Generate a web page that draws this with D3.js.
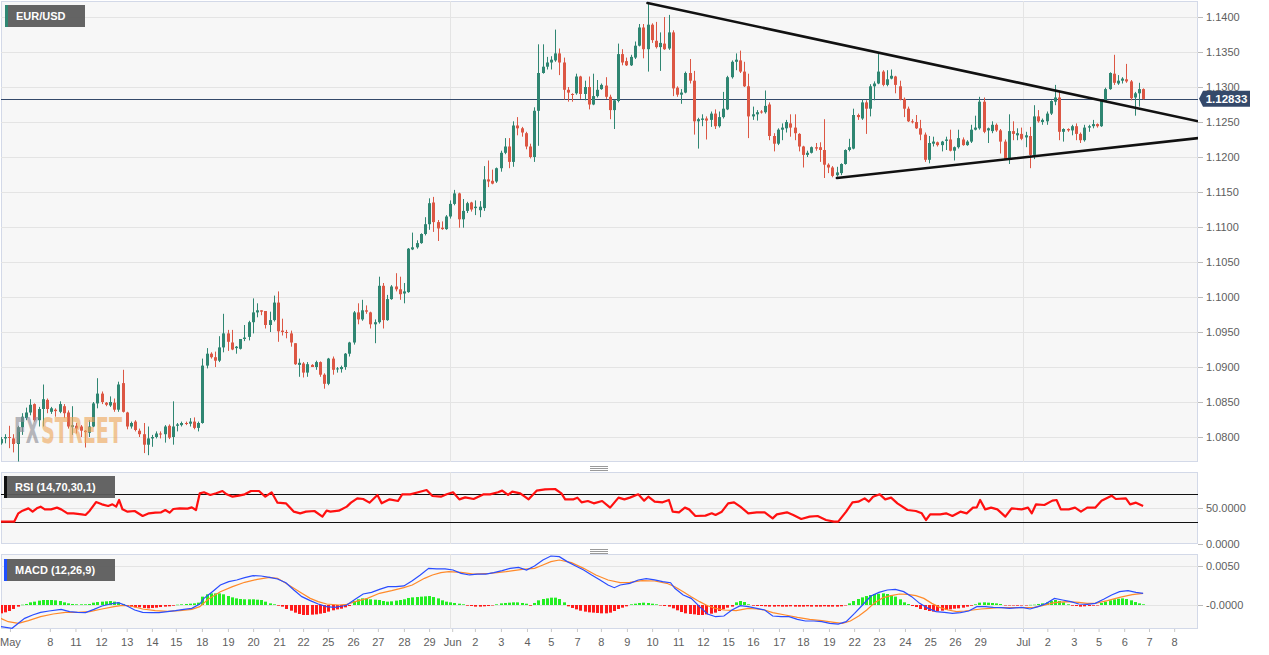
<!DOCTYPE html>
<html><head><meta charset="utf-8">
<script src="https://cdn.jsdelivr.net/npm/d3@7"></script>
<style>
body{margin:0;background:#fff;}
svg{display:block;font-family:"Liberation Sans",Arial,sans-serif;}
</style>
</head><body>
<svg id="chart" width="1269" height="655"></svg>
<script>
// ---------------- DATA (EUR/USD 4H) ----------------
const symbol = "EUR/USD";
const lastPrice = 1.12833;
const opens = [1.0791,1.0798,1.0800,1.0798,1.0790,1.0814,1.0827,1.0835,1.0847,1.0824,1.0840,1.0853,1.0836,1.0839,1.0836,1.0844,1.0835,1.0814,1.0816,1.0815,1.0809,1.0806,1.0815,1.0848,1.0862,1.0849,1.0845,1.0849,1.0839,1.0877,1.0835,1.0815,1.0822,1.0809,1.0804,1.0789,1.0798,1.0800,1.0805,1.0804,1.0816,1.0800,1.0816,1.0817,1.0820,1.0819,1.0822,1.0813,1.0820,1.0902,1.0919,1.0914,1.0909,1.0928,1.0948,1.0935,1.0927,1.0926,1.0940,1.0943,1.0964,1.0978,1.0981,1.0980,1.0960,1.0967,1.0992,1.0952,1.0950,1.0948,1.0934,1.0903,1.0905,1.0892,1.0903,1.0900,1.0907,1.0889,1.0876,1.0912,1.0897,1.0897,1.0900,1.0919,1.0935,1.0978,1.0968,1.0981,1.0978,1.0961,1.0964,1.1016,1.0967,1.0997,1.1015,1.1011,1.1005,1.1007,1.1068,1.1071,1.1077,1.1090,1.1104,1.1135,1.1107,1.1099,1.1097,1.1115,1.1133,1.1148,1.1111,1.1123,1.1135,1.1127,1.1124,1.1127,1.1168,1.1166,1.1165,1.1184,1.1206,1.1215,1.1193,1.1245,1.1241,1.1234,1.1215,1.1200,1.1266,1.1320,1.1329,1.1335,1.1338,1.1348,1.1335,1.1296,1.1290,1.1291,1.1315,1.1290,1.1300,1.1275,1.1287,1.1297,1.1302,1.1286,1.1267,1.1280,1.1347,1.1337,1.1331,1.1342,1.1359,1.1385,1.1354,1.1389,1.1366,1.1357,1.1362,1.1355,1.1378,1.1299,1.1289,1.1292,1.1320,1.1309,1.1251,1.1253,1.1255,1.1253,1.1262,1.1244,1.1257,1.1268,1.1314,1.1336,1.1338,1.1322,1.1301,1.1258,1.1261,1.1265,1.1264,1.1275,1.1230,1.1219,1.1239,1.1241,1.1248,1.1242,1.1233,1.1215,1.1203,1.1206,1.1214,1.1214,1.1210,1.1189,1.1185,1.1174,1.1177,1.1190,1.1210,1.1212,1.1260,1.1255,1.1278,1.1269,1.1301,1.1305,1.1322,1.1303,1.1312,1.1315,1.1301,1.1283,1.1269,1.1251,1.1250,1.1241,1.1232,1.1196,1.1219,1.1221,1.1217,1.1223,1.1225,1.1209,1.1214,1.1225,1.1217,1.1222,1.1239,1.1241,1.1279,1.1238,1.1237,1.1246,1.1238,1.1222,1.1197,1.1237,1.1231,1.1233,1.1228,1.1230,1.1203,1.1258,1.1250,1.1251,1.1262,1.1279,1.1285,1.1236,1.1240,1.1238,1.1244,1.1233,1.1224,1.1242,1.1244,1.1247,1.1244,1.1280,1.1297,1.1319,1.1305,1.1309,1.1311,1.1308,1.1285,1.1291,1.1297];
const highs = [1.0800,1.0804,1.0816,1.0804,1.0816,1.0834,1.0842,1.0854,1.0848,1.0843,1.0875,1.0855,1.0843,1.0841,1.0851,1.0847,1.0838,1.0844,1.0820,1.0817,1.0810,1.0824,1.0850,1.0884,1.0865,1.0850,1.0858,1.0855,1.0879,1.0896,1.0836,1.0822,1.0824,1.0812,1.0820,1.0815,1.0803,1.0808,1.0808,1.0817,1.0818,1.0851,1.0820,1.0822,1.0822,1.0827,1.0828,1.0822,1.0912,1.0927,1.0921,1.0922,1.0944,1.0976,1.0953,1.0953,1.0930,1.0940,1.0960,1.0966,1.0998,1.0991,1.0981,1.0980,1.0979,1.1002,1.1008,1.0969,1.0953,1.0952,1.0934,1.0912,1.0907,1.0907,1.0904,1.0909,1.0908,1.0891,1.0913,1.0915,1.0900,1.0902,1.0920,1.0936,1.0980,1.0991,1.0996,1.0988,1.0979,1.0968,1.1029,1.1020,1.1003,1.1017,1.1034,1.1029,1.1020,1.1070,1.1092,1.1081,1.1091,1.1114,1.1141,1.1143,1.1110,1.1108,1.1117,1.1138,1.1153,1.1149,1.1140,1.1136,1.1136,1.1138,1.1137,1.1187,1.1195,1.1182,1.1185,1.1209,1.1227,1.1227,1.1251,1.1257,1.1243,1.1236,1.1219,1.1271,1.1361,1.1361,1.1343,1.1344,1.1382,1.1355,1.1342,1.1300,1.1291,1.1319,1.1316,1.1309,1.1315,1.1319,1.1310,1.1305,1.1314,1.1289,1.1282,1.1362,1.1354,1.1342,1.1346,1.1365,1.1390,1.1390,1.1420,1.1391,1.1393,1.1378,1.1400,1.1403,1.1381,1.1301,1.1297,1.1322,1.1340,1.1323,1.1256,1.1261,1.1258,1.1265,1.1268,1.1265,1.1293,1.1316,1.1338,1.1348,1.1352,1.1336,1.1319,1.1272,1.1267,1.1267,1.1295,1.1278,1.1234,1.1241,1.1248,1.1253,1.1261,1.1261,1.1234,1.1216,1.1209,1.1215,1.1220,1.1221,1.1254,1.1191,1.1187,1.1186,1.1191,1.1211,1.1226,1.1269,1.1262,1.1282,1.1281,1.1304,1.1308,1.1347,1.1324,1.1324,1.1325,1.1316,1.1309,1.1285,1.1272,1.1254,1.1260,1.1253,1.1235,1.1230,1.1229,1.1222,1.1223,1.1229,1.1239,1.1215,1.1239,1.1228,1.1224,1.1246,1.1259,1.1286,1.1285,1.1242,1.1251,1.1248,1.1240,1.1225,1.1261,1.1251,1.1241,1.1242,1.1236,1.1243,1.1274,1.1267,1.1255,1.1265,1.1281,1.1303,1.1293,1.1241,1.1241,1.1246,1.1248,1.1235,1.1246,1.1246,1.1253,1.1248,1.1282,1.1299,1.1321,1.1346,1.1317,1.1314,1.1333,1.1310,1.1293,1.1306,1.1298];
const lows = [1.0789,1.0791,1.0784,1.0778,1.0765,1.0803,1.0824,1.0831,1.0822,1.0815,1.0815,1.0834,1.0833,1.0829,1.0834,1.0827,1.0812,1.0803,1.0805,1.0800,1.0785,1.0800,1.0814,1.0841,1.0847,1.0844,1.0843,1.0836,1.0836,1.0835,1.0811,1.0812,1.0808,1.0800,1.0777,1.0774,1.0786,1.0798,1.0798,1.0792,1.0797,1.0789,1.0808,1.0815,1.0817,1.0815,1.0811,1.0808,1.0819,1.0898,1.0912,1.0900,1.0907,1.0921,1.0923,1.0924,1.0919,1.0925,1.0937,1.0938,1.0948,1.0971,1.0974,1.0955,1.0950,1.0965,1.0936,1.0945,1.0941,1.0929,1.0903,1.0886,1.0885,1.0886,1.0900,1.0896,1.0886,1.0869,1.0874,1.0889,1.0892,1.0892,1.0896,1.0915,1.0932,1.0961,1.0966,1.0976,1.0955,1.0934,1.0962,1.0955,1.0966,1.0996,1.1008,1.0996,1.0991,1.1006,1.1067,1.1069,1.1076,1.1088,1.1096,1.1093,1.1080,1.1096,1.1096,1.1112,1.1131,1.1099,1.1099,1.1120,1.1122,1.1117,1.1114,1.1123,1.1157,1.1161,1.1163,1.1179,1.1204,1.1184,1.1186,1.1231,1.1229,1.1211,1.1198,1.1193,1.1216,1.1319,1.1325,1.1325,1.1336,1.1317,1.1282,1.1279,1.1279,1.1289,1.1283,1.1281,1.1268,1.1274,1.1285,1.1296,1.1283,1.1254,1.1240,1.1278,1.1331,1.1330,1.1330,1.1340,1.1358,1.1341,1.1322,1.1363,1.1355,1.1323,1.1353,1.1353,1.1287,1.1286,1.1276,1.1291,1.1305,1.1232,1.1212,1.1244,1.1225,1.1243,1.1240,1.1242,1.1255,1.1267,1.1312,1.1324,1.1320,1.1300,1.1227,1.1253,1.1252,1.1262,1.1262,1.1224,1.1208,1.1217,1.1224,1.1235,1.1229,1.1224,1.1208,1.1185,1.1200,1.1205,1.1209,1.1193,1.1170,1.1177,1.1171,1.1172,1.1174,1.1189,1.1208,1.1211,1.1253,1.1253,1.1233,1.1258,1.1281,1.1304,1.1301,1.1301,1.1311,1.1291,1.1281,1.1257,1.1250,1.1248,1.1240,1.1224,1.1193,1.1191,1.1215,1.1215,1.1208,1.1210,1.1208,1.1195,1.1212,1.1216,1.1216,1.1220,1.1238,1.1239,1.1234,1.1220,1.1234,1.1236,1.1205,1.1196,1.1190,1.1224,1.1224,1.1224,1.1214,1.1184,1.1197,1.1249,1.1246,1.1246,1.1260,1.1274,1.1224,1.1222,1.1236,1.1231,1.1224,1.1220,1.1222,1.1236,1.1241,1.1242,1.1243,1.1279,1.1296,1.1303,1.1303,1.1305,1.1306,1.1281,1.1259,1.1272,1.1282];
const closes = [1.0797,1.0800,1.0799,1.0790,1.0814,1.0829,1.0835,1.0846,1.0824,1.0840,1.0854,1.0840,1.0841,1.0837,1.0847,1.0834,1.0815,1.0817,1.0812,1.0809,1.0807,1.0815,1.0848,1.0862,1.0850,1.0846,1.0850,1.0839,1.0875,1.0836,1.0815,1.0820,1.0810,1.0804,1.0789,1.0798,1.0800,1.0805,1.0804,1.0815,1.0799,1.0815,1.0818,1.0820,1.0819,1.0822,1.0813,1.0820,1.0902,1.0919,1.0914,1.0909,1.0928,1.0948,1.0936,1.0925,1.0929,1.0940,1.0942,1.0964,1.0978,1.0981,1.0979,1.0960,1.0967,1.0992,1.0951,1.0950,1.0949,1.0935,1.0904,1.0906,1.0892,1.0904,1.0900,1.0907,1.0889,1.0876,1.0912,1.0896,1.0898,1.0900,1.0919,1.0935,1.0978,1.0968,1.0981,1.0979,1.0961,1.0964,1.1016,1.0967,1.0997,1.1015,1.1011,1.1004,1.1008,1.1069,1.1071,1.1077,1.1090,1.1104,1.1134,1.1107,1.1098,1.1097,1.1115,1.1133,1.1148,1.1111,1.1123,1.1134,1.1125,1.1129,1.1129,1.1168,1.1165,1.1162,1.1184,1.1206,1.1215,1.1193,1.1245,1.1241,1.1235,1.1215,1.1200,1.1266,1.1320,1.1329,1.1335,1.1339,1.1348,1.1335,1.1296,1.1292,1.1289,1.1315,1.1290,1.1300,1.1275,1.1287,1.1296,1.1303,1.1286,1.1267,1.1281,1.1347,1.1335,1.1331,1.1343,1.1359,1.1385,1.1354,1.1389,1.1367,1.1357,1.1363,1.1354,1.1378,1.1298,1.1289,1.1292,1.1320,1.1309,1.1251,1.1254,1.1255,1.1252,1.1262,1.1244,1.1257,1.1269,1.1314,1.1336,1.1339,1.1322,1.1301,1.1258,1.1261,1.1264,1.1264,1.1273,1.1230,1.1219,1.1239,1.1242,1.1250,1.1242,1.1234,1.1215,1.1203,1.1206,1.1214,1.1212,1.1210,1.1189,1.1185,1.1173,1.1178,1.1190,1.1210,1.1214,1.1260,1.1257,1.1278,1.1269,1.1301,1.1305,1.1322,1.1303,1.1311,1.1316,1.1303,1.1282,1.1269,1.1251,1.1250,1.1241,1.1232,1.1196,1.1220,1.1222,1.1217,1.1222,1.1225,1.1209,1.1214,1.1227,1.1217,1.1222,1.1239,1.1242,1.1279,1.1236,1.1241,1.1246,1.1238,1.1222,1.1197,1.1237,1.1233,1.1234,1.1226,1.1231,1.1203,1.1258,1.1251,1.1253,1.1262,1.1280,1.1285,1.1236,1.1240,1.1238,1.1244,1.1233,1.1224,1.1242,1.1244,1.1247,1.1244,1.1280,1.1297,1.1320,1.1306,1.1309,1.1312,1.1308,1.1284,1.1291,1.1297,1.1283];

const priceTicks = [1.0800,1.0850,1.0900,1.0950,1.1000,1.1050,1.1100,1.1150,1.1200,1.1250,1.1300,1.1350,1.1400];

// x-axis day labels (candle index of each label)
const dayLabels = ["May","8","11","12","13","14","15","18","19","20","21","22","25","26","27","28","29","Jun","2","3","4","5","7","8","9","10","11","12","15","16","17","18","19","22","23","24","25","26","29","Jul","2","3","5","6","7","8"];
const dayLabelIdx = [2.2,11.7,17.8,23.9,30.0,36.0,41.7,47.9,54.1,60.1,66.3,72.0,77.9,83.9,89.8,96.0,102.0,107.5,112.9,119.1,125.3,131.0,137.2,142.9,149.1,155.1,161.3,167.2,173.2,179.1,185.3,191.0,197.2,203.2,209.1,215.3,221.3,227.2,233.2,243.4,249.2,255.5,261.4,267.5,273.4,279.4];
const monthGridIdx = [107.0, 243.3];

// trend lines (candle index, price)
const upperTrendIdx = [154, 285.1], upperTrendPrice = [1.1420, 1.1251];
const lowerTrendIdx = [199.1, 285.1], lowerTrendPrice = [1.1170, 1.1227];

// RSI (14,70,30,1)
const rsiIdx = [0,3.2,4.2,5.2,6.6,7.6,8.6,9.5,10.5,12.0,13.4,14.4,15.9,17.3,19.3,20.2,21.2,22.7,24.1,25.6,26.6,27.5,28.2,29.0,30.2,31.9,33.8,35.3,36.8,38.2,39.2,40.2,41.1,42.6,44.5,45.5,46.5,47.4,48.4,49.9,51.3,52.8,53.8,55.2,56.7,58.1,59.6,61.5,63.0,64.5,65.9,67.9,69.8,71.3,72.7,74.7,76.6,77.6,78.5,80.5,82.4,83.4,84.9,86.3,87.8,89.7,90.7,92.6,94.6,95.6,97.5,99.4,101.4,102.8,104.8,106.2,107.7,109.2,110.6,112.6,115.0,116.5,118.4,119.4,120.8,121.8,123.7,125.7,127.6,129.6,132.0,133.5,134.4,136.4,137.3,138.3,139.8,141.2,143.2,145.1,147.1,148.5,149.8,151.8,153.2,154.2,155.7,157.6,159.1,160.0,161.5,162.9,163.9,165.4,167.8,169.3,170.2,171.7,173.2,174.6,176.1,178.0,180.0,181.9,183.8,184.8,187.2,188.7,190.6,192.6,194.5,196.5,198.4,199.4,201.3,202.8,204.2,205.7,206.7,207.7,209.3,210.6,212.0,213.5,215.9,217.9,219.3,220.3,221.3,223.7,225.1,226.6,228.5,230.0,231.5,232.4,233.2,234.4,235.8,237.3,239.2,240.7,243.1,244.6,245.5,246.5,248.5,250.4,251.4,252.4,254.3,255.8,257.2,258.7,260.6,262.1,264.5,265.5,267.9,268.9,270.3,272];
const rsiVal = [31.0,31.0,42.6,46.3,49.5,44.9,49.5,51.9,48.1,48.1,50.5,48.1,42.6,42.6,41.2,40.3,46.3,58.3,55.1,52.8,55.1,51.9,61.1,48.1,44.9,45.8,38.9,42.6,43.5,44.0,47.2,43.5,48.6,49.5,49.1,50.9,47.2,70.4,71.8,68.1,70.4,73.6,69.0,65.7,67.1,69.0,73.6,73.6,65.7,71.8,57.4,56.5,44.9,42.6,44.9,45.8,38.0,46.3,44.9,46.3,51.9,57.4,63.4,62.5,57.4,68.1,56.5,62.0,59.7,69.0,69.0,71.8,75.0,66.7,65.7,69.0,71.8,62.0,64.8,62.5,69.0,69.0,71.8,74.1,68.1,72.7,70.4,62.0,74.1,75.9,76.4,70.4,62.0,62.0,64.4,57.9,59.7,56.5,59.7,50.5,64.4,62.0,64.4,69.0,60.2,65.7,58.8,57.9,61.1,44.9,44.0,50.5,48.1,38.9,39.4,42.6,40.3,44.9,56.5,57.9,51.9,42.6,44.0,44.0,35.6,41.2,44.0,40.3,34.7,38.0,38.9,33.3,31.0,31.0,44.9,57.9,58.8,63.4,58.8,65.7,69.0,62.0,64.4,56.5,47.2,45.8,42.6,33.3,41.2,41.2,42.6,38.9,44.9,42.6,50.5,50.9,61.1,48.1,50.5,48.1,38.0,49.5,48.1,50.5,42.6,55.1,54.2,60.2,61.1,48.1,48.1,50.5,44.9,50.5,50.5,60.2,67.1,62.5,63.4,55.1,57.4,52.8];
const rsiLevels = [70, 30];
const rsiTicks = [50, 0];

// MACD (12,26,9)
const macdIdx = [0,2.7,4.2,5.7,7.6,9.5,11.5,14.4,16.4,18.3,20.2,22.2,24.1,26.1,28.0,30.0,31.9,33.8,35.8,37.7,39.7,41.6,43.6,45.5,47.4,48.4,50.4,52.3,54.3,56.2,58.1,60.1,62.0,64.0,65.9,67.9,69.8,71.7,73.7,75.6,77.6,79.5,81.5,82.4,84.4,86.3,88.3,90.2,92.2,94.1,96.0,98.0,99.9,101.9,103.8,105.8,107.7,109.6,111.6,113.5,115.5,117.4,119.4,121.3,123.3,125.2,127.1,129.1,131.0,133.0,134.9,136.9,138.8,140.7,142.7,144.6,146.1,147.5,149.8,151.8,153.7,155.7,157.6,159.5,160.5,162.5,164.4,166.4,168.3,170.2,172.2,174.1,176.1,178.0,180.0,181.9,183.8,185.8,187.7,189.7,191.6,193.6,195.5,197.4,199.4,201.3,203.3,205.2,207.2,209.1,211.1,213.0,215.0,216.9,218.8,220.8,222.7,224.7,226.6,228.5,230.5,232.4,234.4,236.3,238.3,240.2,243.1,245.1,247.0,249.0,250.9,252.8,254.8,256.7,258.7,260.6,262.6,264.5,266.4,268.4,270.3,272];
const macdVal = [-0.00278,-0.00299,-0.00235,-0.00171,-0.00128,-0.00094,-0.00077,-0.00056,-0.00085,-0.00094,-0.00098,-0.00056,-0.00013,0.00013,0.00030,-0.00009,-0.00064,-0.00094,-0.00098,-0.00098,-0.00085,-0.00073,-0.00056,-0.00043,0.00013,0.00085,0.00171,0.00256,0.00299,0.00321,0.00350,0.00376,0.00372,0.00355,0.00333,0.00286,0.00192,0.00107,0.00056,0.00013,-0.00021,-0.00030,-0.00013,0,0.00073,0.00141,0.00162,0.00201,0.00235,0.00235,0.00244,0.00312,0.00385,0.00470,0.00462,0.00462,0.00449,0.00406,0.00385,0.00397,0.00397,0.00415,0.00440,0.00470,0.00483,0.00449,0.00500,0.00577,0.00628,0.00620,0.00556,0.00500,0.00449,0.00385,0.00321,0.00256,0.00222,0.00256,0.00278,0.00321,0.00338,0.00321,0.00299,0.00286,0.00214,0.00128,0.00085,-0.00021,-0.00115,-0.00150,-0.00141,-0.00064,-0.00009,-0.00021,-0.00043,-0.00064,-0.00141,-0.00150,-0.00150,-0.00184,-0.00205,-0.00205,-0.00214,-0.00235,-0.00244,-0.00214,-0.00107,0,0.00115,0.00162,0.00192,0.00201,0.00171,0.00107,0.00021,-0.00043,-0.00085,-0.00094,-0.00107,-0.00098,-0.00077,-0.00021,-0.00021,-0.00030,-0.00034,-0.00043,-0.00030,-0.00051,-0.00021,0.00021,0.00085,0.00064,0.00043,0.00013,0.00009,0.00021,0.00073,0.00128,0.00171,0.00184,0.00162,0.00150];
const signalIdx = [0,1.8,4.2,6.6,9.5,12.5,15.4,18.3,21.2,24.1,27.0,29.0,30.9,33.8,36.8,39.7,42.6,45.5,47.4,49.4,52.3,55.2,58.1,61.1,64.0,65.9,67.9,69.8,71.7,73.7,75.6,77.6,80.5,82.4,84.4,87.3,90.2,93.1,96.0,98.0,100.9,102.8,104.8,106.7,109.6,112.6,116.5,120.3,124.2,127.1,129.1,131.0,133.0,135.9,138.8,141.7,144.6,147.5,149.8,152.7,155.7,158.6,160.5,162.5,164.4,166.4,168.3,170.2,172.2,175.1,178.0,180.0,181.9,183.8,186.8,189.7,192.6,195.5,198.4,200.4,202.3,204.3,206.2,208.1,210.1,212.0,214.0,215.9,217.9,219.8,221.7,223.7,225.6,227.6,229.5,231.5,233.4,235.4,237.3,240.2,243.1,246.0,248.0,250.9,253.8,256.7,258.7,260.6,263.5,266.4,269.4,272];
const signalVal = [-0.00171,-0.00214,-0.00235,-0.00201,-0.00150,-0.00115,-0.00094,-0.00094,-0.00085,-0.00051,-0.00021,-0.00004,-0.00013,-0.00051,-0.00073,-0.00081,-0.00073,-0.00056,-0.00021,0.00073,0.00171,0.00235,0.00291,0.00329,0.00355,0.00342,0.00278,0.00214,0.00150,0.00085,0.00043,0.00013,0,0.00009,0.00043,0.00085,0.00150,0.00184,0.00222,0.00256,0.00342,0.00385,0.00415,0.00427,0.00419,0.00397,0.00406,0.00427,0.00457,0.00470,0.00513,0.00556,0.00577,0.00543,0.00470,0.00385,0.00321,0.00286,0.00291,0.00312,0.00308,0.00278,0.00235,0.00171,0.00107,0.00043,-0.00009,-0.00043,-0.00064,-0.00073,-0.00043,-0.00051,-0.00064,-0.00098,-0.00128,-0.00158,-0.00184,-0.00201,-0.00222,-0.00235,-0.00205,-0.00141,-0.00064,0.00030,0.00094,0.00120,0.00141,0.00137,0.00120,0.00085,0.00021,-0.00034,-0.00064,-0.00085,-0.00077,-0.00064,-0.00051,-0.00043,-0.00034,-0.00034,-0.00034,-0.00030,-0.00009,0.00030,0.00043,0.00034,0.00021,0.00021,0.00056,0.00098,0.00132,0.00150];
const macdHist = [-0.00107,-0.00094,-0.00077,-0.00051,-0.00021,0.00004,0.00013,0.00034,0.00043,0.00056,0.00064,0.00064,0.00064,0.00060,0.00051,0.00034,0.00021,0.00013,0.00009,0.00009,0.00009,0.00013,0.00030,0.00038,0.00043,0.00047,0.00051,0.00043,0.00034,0.00013,-0.00013,-0.00021,-0.00030,-0.00030,-0.00038,-0.00043,-0.00038,-0.00034,-0.00026,-0.00021,-0.00017,-0.00009,0.00004,0.00009,0.00013,0.00017,0.00021,0.00030,0.00107,0.00137,0.00149,0.00149,0.00149,0.00137,0.00115,0.00098,0.00085,0.00077,0.00073,0.00073,0.00073,0.00068,0.00064,0.00043,0.00021,0.00009,-0.00009,-0.00021,-0.00051,-0.00073,-0.00098,-0.00115,-0.00128,-0.00128,-0.00124,-0.00120,-0.00111,-0.00102,-0.00085,-0.00068,-0.00056,-0.00047,-0.00030,-0.00013,0.00051,0.00073,0.00085,0.00081,0.00073,0.00068,0.00064,0.00051,0.00043,0.00047,0.00056,0.00064,0.00073,0.00090,0.00098,0.00102,0.00107,0.00111,0.00115,0.00102,0.00085,0.00060,0.00043,0.00034,0.00026,0.00017,0.00009,-0.00009,-0.00013,-0.00021,-0.00021,-0.00017,-0.00013,-0.00004,0.00009,0.00021,0.00026,0.00030,0.00034,0.00034,0.00026,0.00017,-0.00009,0.00026,0.00060,0.00077,0.00085,0.00094,0.00094,0.00077,0.00034,-0.00017,-0.00038,-0.00056,-0.00073,-0.00085,-0.00094,-0.00098,-0.00102,-0.00107,-0.00107,-0.00098,-0.00077,-0.00051,-0.00034,-0.00017,0.00009,0.00017,0.00026,0.00030,0.00026,0.00017,0.00009,-0.00004,-0.00013,-0.00021,-0.00043,-0.00068,-0.00090,-0.00107,-0.00115,-0.00120,-0.00128,-0.00128,-0.00120,-0.00111,-0.00098,-0.00077,-0.00056,-0.00034,-0.00021,0.00034,0.00051,0.00038,0.00009,-0.00009,-0.00013,-0.00013,-0.00017,-0.00021,-0.00021,-0.00017,-0.00021,-0.00021,-0.00017,-0.00021,-0.00021,-0.00021,-0.00017,-0.00021,-0.00021,-0.00021,-0.00017,-0.00021,-0.00021,-0.00021,-0.00017,-0.00004,0.00021,0.00051,0.00077,0.00098,0.00115,0.00128,0.00141,0.00145,0.00149,0.00141,0.00128,0.00107,0.00073,0.00034,0.00013,-0.00013,-0.00026,-0.00051,-0.00064,-0.00077,-0.00085,-0.00081,-0.00073,-0.00064,-0.00056,-0.00047,-0.00043,-0.00034,-0.00021,-0.00009,0.00009,0.00030,0.00034,0.00030,0.00026,0.00021,0.00013,-0.00004,-0.00004,-0.00004,-0.00009,-0.00004,-0.00004,0.00002,0.00004,0.00013,0.00021,0.00034,0.00051,0.00064,0.00051,0.00034,0.00009,-0.00009,-0.00013,-0.00021,-0.00017,-0.00013,-0.00009,-0.00004,0.00026,0.00043,0.00060,0.00073,0.00081,0.00085,0.00077,0.00060,0.00038,0.00021,0.00009];
const macdTicks = [0.005, 0];
const macdTickLabels = ["0.0050", "-0.0000"];

// ---------------- LAYOUT ----------------
const W = 1269, H = 655;
const plotL = 1, plotR = 1198;
const mainTop = 1, mainBot = 462;
const rsiTop = 472, rsiBot = 544;
const macdTop = 554, macdBot = 629;
const UP = "#2f8672", DOWN = "#dc5744";
const GRID = "#e4e4e4", BORDER = "#d3d9e8", AXIS_TXT = "#5e5e5e";

const svg = d3.select("#chart");
const n = closes.length;

const x = d3.scaleLinear().domain([0, 285]).range([0.7, 0.7 + 285 * 4.2]);
const yP = d3.scaleLinear().domain([1.08, 1.14]).range([437, 17]);
const yR = d3.scaleLinear().domain([0, 100]).range([rsiBot, rsiTop]);
const yM = d3.scaleLinear().domain([0, 0.005]).range([605, 566]);

const defs = svg.append("defs");
function clip(id, y0, y1) {
  defs.append("clipPath").attr("id", id).append("rect")
    .attr("x", plotL).attr("y", y0).attr("width", plotR - plotL).attr("height", y1 - y0);
}
clip("cMain", mainTop, mainBot); clip("cRsi", rsiTop, rsiBot); clip("cMacd", macdTop, macdBot);

// panel backgrounds
[[mainTop, mainBot], [rsiTop, rsiBot], [macdTop, macdBot]].forEach(([a, b]) => {
  svg.append("rect").attr("x", plotL + 0.5).attr("y", a + 0.5).attr("width", plotR - plotL - 1)
    .attr("height", b - a - 1).attr("fill", "#f7f7f7").attr("stroke", BORDER).attr("stroke-width", 1);
});

const crisp = v => Math.round(v) + 0.5;

// ---------- main grid ----------
const gMain = svg.append("g").attr("clip-path", "url(#cMain)");
gMain.selectAll(".hg").data(priceTicks).join("line")
  .attr("x1", plotL).attr("x2", plotR).attr("y1", d => crisp(yP(d))).attr("y2", d => crisp(yP(d)))
  .attr("stroke", GRID).attr("stroke-width", 1);
function monthGrid(g, y0, y1) {
  g.selectAll(".vg").data(monthGridIdx).join("line")
    .attr("x1", d => crisp(x(d))).attr("x2", d => crisp(x(d))).attr("y1", y0).attr("y2", y1)
    .attr("stroke", GRID).attr("stroke-width", 1);
}
monthGrid(gMain, mainTop, mainBot);

// watermark: two parts, each scaled (via transform) to its width in the logo
function logoPart(txt, x0, targetW, fill) {
  const g = svg.append("g").attr("opacity", 0.62);
  const t = g.append("text").attr("x", 0).attr("y", 0).attr("fill", fill)
    .style("font-family", "'DejaVu Sans Condensed','DejaVu Sans',sans-serif").style("font-weight", "bold")
    .attr("font-size", 36).text(txt);
  const w = t.node().getComputedTextLength() || targetW;
  g.attr("transform", `translate(${x0},443) scale(${targetW / w},1)`);
}
logoPart("FX", 14, 25, "#8d8d95");
logoPart("STREET", 41, 81, "#eea85c");

// current price line
gMain.append("line").attr("x1", plotL).attr("x2", plotR)
  .attr("y1", crisp(yP(lastPrice))).attr("y2", crisp(yP(lastPrice)))
  .attr("stroke", "#34496a").attr("stroke-width", 1);

// candles
const idxs = d3.range(n);
const cg = gMain.append("g");
cg.selectAll(".wick").data(idxs).join("line")
  .attr("x1", i => crisp(x(i))).attr("x2", i => crisp(x(i)))
  .attr("y1", i => yP(highs[i])).attr("y2", i => yP(lows[i]))
  .attr("stroke", i => closes[i] >= opens[i] ? UP : DOWN).attr("stroke-width", 1);
cg.selectAll(".body").data(idxs).join("rect")
  .attr("x", i => Math.round(x(i)) - 1).attr("width", 3)
  .attr("y", i => yP(Math.max(opens[i], closes[i])))
  .attr("height", i => Math.max(1, Math.abs(yP(opens[i]) - yP(closes[i]))))
  .attr("fill", i => closes[i] >= opens[i] ? UP : DOWN);

// trend lines
const trendLine = d3.line().x(d => x(d[0])).y(d => yP(d[1]));
[[upperTrendIdx, upperTrendPrice], [lowerTrendIdx, lowerTrendPrice]].forEach(([ix, pr]) => {
  gMain.append("path").datum(ix.map((v, k) => [v, pr[k]])).attr("d", trendLine)
    .attr("fill", "none").attr("stroke", "#111").attr("stroke-width", 2.6).attr("stroke-linecap", "round");
});

// price axis
const ax = svg.append("g").attr("transform", `translate(${plotR},0)`)
  .call(d3.axisRight(yP).tickValues(priceTicks).tickFormat(d3.format(".4f")).tickSize(5).tickPadding(3));
ax.select(".domain").remove();
ax.selectAll("line").attr("stroke", "#bbb");
ax.selectAll("text").attr("fill", AXIS_TXT).attr("font-size", 11).attr("font-family", "'Liberation Sans',Arial,sans-serif");

// last price label
const ly = yP(lastPrice);
svg.append("path").attr("d", `M1199,${ly} L1203,${ly - 8} L1250,${ly - 8} L1250,${ly + 8} L1203,${ly + 8} Z`).attr("fill", "#34496a");
svg.append("text").attr("x", 1226.5).attr("y", ly + 4.2).attr("text-anchor", "middle")
  .attr("fill", "#fff").attr("font-size", 11.5).attr("font-weight", "bold").text(lastPrice.toFixed(5));

// panel labels
function label(xx, yy, w, h, bar, txt) {
  svg.append("rect").attr("x", xx).attr("y", yy).attr("width", w).attr("height", h).attr("fill", "#5c5c5c").attr("opacity", 0.95);
  svg.append("rect").attr("x", xx).attr("y", yy).attr("width", 3).attr("height", h).attr("fill", bar);
  svg.append("text").attr("x", xx + 11).attr("y", yy + h / 2 + 4).attr("fill", "#fff")
    .attr("font-size", 11).attr("font-weight", "bold").text(txt);
}
label(5, 5, 80, 22, "#2f8672", symbol);

// ---------- RSI panel ----------
const gR = svg.append("g").attr("clip-path", "url(#cRsi)");
gR.append("line").attr("x1", plotL).attr("x2", plotR).attr("y1", crisp(yR(50))).attr("y2", crisp(yR(50))).attr("stroke", GRID);
monthGrid(gR, rsiTop, rsiBot);
gR.selectAll(".lvl").data(rsiLevels).join("line")
  .attr("x1", plotL).attr("x2", plotR).attr("y1", d => crisp(yR(d))).attr("y2", d => crisp(yR(d)))
  .attr("stroke", "#111").attr("stroke-width", 1);
gR.append("path").datum(rsiIdx.map((v, k) => [v, rsiVal[k]]))
  .attr("d", d3.line().x(d => x(d[0])).y(d => yR(d[1])))
  .attr("fill", "none").attr("stroke", "#ff1010").attr("stroke-width", 2.2).attr("stroke-linejoin", "round");
const axR = svg.append("g").attr("transform", `translate(${plotR},0)`)
  .call(d3.axisRight(yR).tickValues(rsiTicks).tickFormat(d3.format(".4f")).tickSize(5).tickPadding(3));
axR.select(".domain").remove();
axR.selectAll("line").attr("stroke", "#bbb");
axR.selectAll("text").attr("fill", AXIS_TXT).attr("font-size", 11);
label(4, 476, 111, 22, "#111", "RSI (14,70,30,1)");

// ---------- MACD panel ----------
const gM = svg.append("g").attr("clip-path", "url(#cMacd)");
gM.selectAll(".mg").data(macdTicks).join("line")
  .attr("x1", plotL).attr("x2", plotR).attr("y1", d => crisp(yM(d))).attr("y2", d => crisp(yM(d))).attr("stroke", GRID);
monthGrid(gM, macdTop, macdBot);
gM.selectAll(".hist").data(idxs).join("rect")
  .attr("x", i => Math.round(x(i)) - 1).attr("width", 3)
  .attr("y", i => Math.min(yM(0), yM(macdHist[i])))
  .attr("height", i => Math.max(0.5, Math.abs(yM(macdHist[i]) - yM(0))))
  .attr("fill", i => macdHist[i] >= 0 ? "#22ee22" : "#ff1a1a");
const lineM = d3.line().x(d => x(d[0])).y(d => yM(d[1]));
gM.append("path").datum(signalIdx.map((v, k) => [v, signalVal[k]])).attr("d", lineM)
  .attr("fill", "none").attr("stroke", "#ff8a2a").attr("stroke-width", 1.2);
gM.append("path").datum(macdIdx.map((v, k) => [v, macdVal[k]])).attr("d", lineM)
  .attr("fill", "none").attr("stroke", "#2a4dff").attr("stroke-width", 1.2);
const axM = svg.append("g").attr("transform", `translate(${plotR},0)`)
  .call(d3.axisRight(yM).tickValues(macdTicks).tickFormat((d, i) => macdTickLabels[i]).tickSize(5).tickPadding(3));
axM.select(".domain").remove();
axM.selectAll("line").attr("stroke", "#bbb");
axM.selectAll("text").attr("fill", AXIS_TXT).attr("font-size", 11);
label(4, 559, 111, 22, "#1f4fff", "MACD (12,26,9)");

// panel resize handles
[466, 549].forEach(yy => {
  [0, 2, 4].forEach(o => svg.append("line").attr("x1", 590).attr("x2", 608)
    .attr("y1", yy + o + 0.5).attr("y2", yy + o + 0.5).attr("stroke", "#9a9a9a").attr("stroke-width", 1));
});

// ---------- time axis ----------
const axX = svg.append("g").attr("transform", `translate(0,${macdBot})`)
  .call(d3.axisBottom(x).tickValues(dayLabelIdx).tickFormat((d, i) => dayLabels[i]).tickSize(3).tickPadding(3));
axX.select(".domain").remove();
axX.selectAll("line").attr("stroke", "#c8c8c8");
axX.selectAll("text").attr("fill", AXIS_TXT).attr("font-size", 11).attr("y", 17).attr("dy", 0);
</script>
</body></html>
